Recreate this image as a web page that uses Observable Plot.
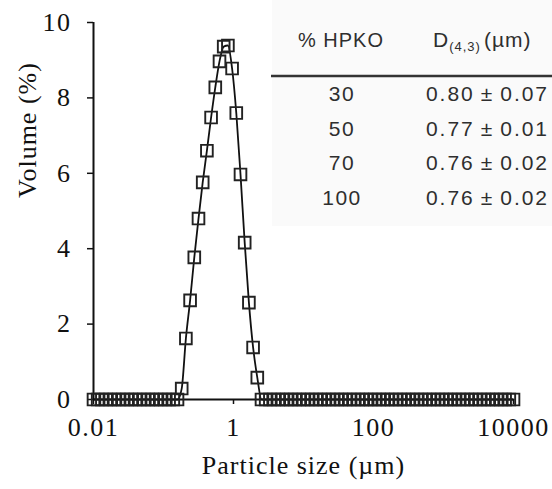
<!DOCTYPE html>
<html>
<head>
<meta charset="utf-8">
<script src="https://cdn.jsdelivr.net/npm/d3@7"></script>
<script src="https://cdn.jsdelivr.net/npm/@observablehq/plot@0.6"></script>
<style>
  html, body { margin: 0; padding: 0; background: #fff; }
  #wrap { position: relative; width: 552px; height: 489px; }
  #table { position: absolute; left: 0; top: 0; }
</style>
</head>
<body>
<div id="wrap"></div>
<script>
// Particle size classes (µm) read along the log x axis
const sizes = [
  0.01, 0.01148, 0.01318, 0.01514, 0.01738, 0.01995, 0.02291, 0.0263, 0.0302, 0.03467,
  0.03981, 0.04571, 0.05248, 0.06026, 0.06918, 0.07943, 0.0912, 0.1047, 0.1202, 0.138,
  0.1585, 0.182, 0.2089, 0.2399, 0.2754, 0.3162, 0.3631, 0.4169, 0.4786, 0.5495,
  0.631, 0.7244, 0.8318, 0.955, 1.096, 1.259, 1.445, 1.66, 1.905, 2.188,
  2.512, 2.884, 3.311, 3.802, 4.365, 5.012, 5.754, 6.607, 7.586, 8.71,
  10, 11.48, 13.18, 15.14, 17.38, 19.95, 22.91, 26.3, 30.2, 34.67,
  39.81, 45.71, 52.48, 60.26, 69.18, 79.43, 91.2, 104.7, 120.2, 138,
  158.5, 182, 208.9, 239.9, 275.4, 316.2, 363.1, 416.9, 478.6, 549.5,
  631, 724.4, 831.8, 955, 1096, 1259, 1445, 1660, 1905, 2188,
  2512, 2884, 3311, 3802, 4365, 5012, 5754, 6607, 7586, 8710,
  10000
];
// Volume (%) per size class
const volume = [
  0, 0, 0, 0, 0, 0, 0, 0, 0, 0,
  0, 0, 0, 0, 0, 0, 0, 0, 0, 0,
  0, 0.29, 1.62, 2.63, 3.77, 4.8, 5.76, 6.6, 7.48, 8.28,
  8.97, 9.36, 9.39, 8.78, 7.6, 5.97, 4.16, 2.57, 1.38, 0.58,
  0, 0, 0, 0, 0, 0, 0, 0, 0, 0,
  0, 0, 0, 0, 0, 0, 0, 0, 0, 0,
  0, 0, 0, 0, 0, 0, 0, 0, 0, 0,
  0, 0, 0, 0, 0, 0, 0, 0, 0, 0,
  0, 0, 0, 0, 0, 0, 0, 0, 0, 0,
  0, 0, 0, 0, 0, 0, 0, 0, 0, 0,
  0
];
const xTicks = [0.01, 1, 100, 10000];
const yTicks = [0, 2, 4, 6, 8, 10];
const xTitle = "Particle size (µm)";
const yTitle = "Volume (%)";

// Inset table
const tableHeaders = ["% HPKO", "D", "(4,3)", "(µm)"];
const hpko = ["30", "50", "70", "100"];
const d43 = ["0.80\u2009±\u20090.07", "0.77\u2009±\u20090.01", "0.76\u2009±\u20090.02", "0.76\u2009±\u20090.02"];

const data = sizes.map((s, i) => ({size: s, volume: volume[i]}));
const serif = "'Liberation Serif', 'Times New Roman', serif";

const chart = Plot.plot({
  width: 552,
  height: 489,
  marginLeft: 93,
  marginRight: 39,
  marginTop: 22,
  marginBottom: 90,
  style: {fontFamily: serif, fontSize: "26px", color: "#111", background: "transparent"},
  x: {type: "log", domain: [0.01, 10000]},
  y: {domain: [0, 10]},
  marks: [
    Plot.axisX({ticks: xTicks, tickFormat: d => String(d), tickSize: 5, tickPadding: 13, label: null, strokeWidth: 1.5, fontSize: 26, className: "xax"}),
    Plot.axisY({ticks: yTicks, tickSize: 6, tickPadding: 16, label: null, strokeWidth: 1.5, fontSize: 26, className: "yax"}),
    Plot.ruleY([0], {stroke: "#111", strokeWidth: 2}),
    Plot.ruleX([0.01], {stroke: "#111", strokeWidth: 2}),
    Plot.line(data, {x: "size", y: "volume", stroke: "#111", strokeWidth: 1.8, curve: "monotone-x"}),
    Plot.dot(data, {x: "size", y: "volume", symbol: "square", r: 6.6, stroke: "#222", strokeWidth: 1.9, fill: "none"}),
    Plot.text([xTitle], {frameAnchor: "bottom", dx: 0, dy: 74, fontSize: 26, fill: "#111"}),
    Plot.text([yTitle], {frameAnchor: "left", dx: -66, dy: -13, rotate: -90, fontSize: 26, fill: "#111"})
  ]
});
d3.select(chart).selectAll("text").filter(function() { return this.textContent === xTitle || this.textContent === yTitle; })
  .style("letter-spacing", "1px");
// glyphs of the reference tick labels are set slightly wider
d3.select(chart).selectAll("text").filter(function() {
  const t = this.textContent;
  return xTicks.map(String).includes(t) || yTicks.map(String).includes(t);
}).style("letter-spacing", "1.5px");
document.getElementById("wrap").appendChild(chart);

// Inset table drawn as SVG text
const tsvg = d3.select("#wrap").append("svg")
  .attr("id", "table")
  .attr("width", 552).attr("height", 489)
  .style("pointer-events", "none");
tsvg.append("rect").attr("x", 272).attr("y", 0).attr("width", 280).attr("height", 226).attr("fill", "#fafafa");
const tfont = "'Liberation Sans', Arial, sans-serif";
const tcol = "#2e2e2e";
tsvg.append("text").attr("x", 341).attr("y", 47).attr("text-anchor", "middle")
  .attr("font-family", tfont).attr("font-size", 20).attr("fill", tcol).attr("letter-spacing", 1)
  .text(tableHeaders[0]);
const dh = tsvg.append("text").attr("x", 433).attr("y", 47)
  .attr("font-family", tfont).attr("font-size", 21).attr("fill", tcol).attr("letter-spacing", 1);
dh.append("tspan").text(tableHeaders[1]);
dh.append("tspan").attr("font-size", 13).attr("dy", 4).text(tableHeaders[2]);
dh.append("tspan").attr("dy", -4).attr("dx", 3).text(tableHeaders[3]);
tsvg.append("line").attr("x1", 271).attr("x2", 552).attr("y1", 76).attr("y2", 76)
  .attr("stroke", "#333").attr("stroke-width", 2.5);
hpko.forEach((h, i) => {
  const y = 101 + i * 34.7;
  tsvg.append("text").attr("x", 342).attr("y", y).attr("text-anchor", "middle")
    .attr("font-family", tfont).attr("font-size", 21).attr("fill", tcol).attr("letter-spacing", 1.5)
    .text(h);
  tsvg.append("text").attr("x", 426).attr("y", y)
    .attr("font-family", tfont).attr("font-size", 21).attr("fill", tcol)
    .attr("textLength", 121).attr("lengthAdjust", "spacing")
    .text(d43[i]);
});
</script>
</body>
</html>
